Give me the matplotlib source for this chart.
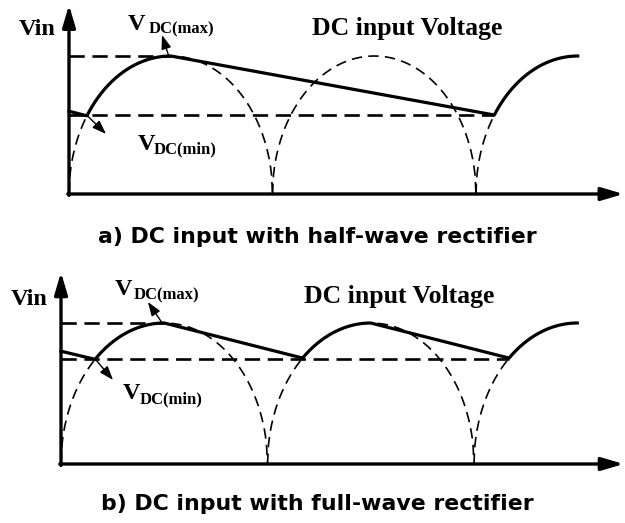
import numpy as np
import matplotlib
matplotlib.use('Agg')
import matplotlib.pyplot as plt

plt.rcParams['lines.scale_dashes'] = False

# ---- data (time in rectifier half-periods, voltage relative to peak) ----
v_peak = 1.0
t_end = 2.5                     # waveform drawn up to the third peak
hump_starts = [0, 1, 2]         # rectified source humps (dashed)

# a) half-wave rectifier
a_v0 = 0.60                     # capacitor voltage at t = 0
a_vmin = 0.57                   # V_DC(min)
a_charge = [0.088, 2.09]        # instants where charging starts
a_peaks = [0.5, 2.5]            # charging ends at the peaks

# b) full-wave rectifier
b_v0 = 0.80
b_vmin = 0.745
b_charge = [0.165, 1.17, 2.17]
b_peaks = [0.5, 1.5, 2.5]

titles = ["a) DC input with half-wave rectifier",
          "b) DC input with full-wave rectifier"]
ylab = "Vin"
curve_label = "DC input Voltage"

SERIF = 'Liberation Serif'
SANS = 'DejaVu Sans'


def hump(t0, t1, n=200):
    t = np.linspace(t0, t1, n)
    c = np.floor(t0 + 1e-9) + 0.5
    v = v_peak * np.sqrt(np.clip(1 - ((t - c) / 0.5) ** 2, 0, None))
    return t, v


def draw_panel(ax, v0, vmin, charge, peaks, xtip, ytip, txt):
    # source (rectified) waveform, dashed
    for k in hump_starts:
        t, v = hump(k, min(k + 1, t_end))
        ax.plot(t, v, color='black', lw=1.2, dashes=(7.5, 4.5),
                solid_capstyle='butt')
    # reference levels
    ax.plot([0, peaks[0]], [v_peak, v_peak], color='black', lw=1.9,
            dashes=(11, 5.5))
    ax.plot([0, charge[-1]], [vmin, vmin], color='black', lw=1.9,
            dashes=(11, 5.5))
    # DC input voltage (solid): straight decay between peak and next charge
    ts = [0.0]
    vs = [v0]
    for c, p in zip(charge, peaks):
        t, v = hump(c, p)
        ts.extend(t)
        vs.extend(v)
    ax.plot(ts, vs, color='black', lw=2.3, solid_joinstyle='round')
    # axes arrows
    ap = dict(arrowstyle='-|>,head_length=0.95,head_width=0.28',
              color='black', lw=2.4, mutation_scale=14,
              shrinkA=0, shrinkB=0)
    ax.annotate('', xy=(0, ytip), xytext=(0, -0.01), arrowprops=ap,
                annotation_clip=False)
    ax.annotate('', xy=(xtip, 0), xytext=(-0.006, 0), arrowprops=ap,
                annotation_clip=False)
    # pointer arrows
    pa = dict(arrowstyle='-|>,head_length=0.7,head_width=0.25',
              color='black', lw=1.0, mutation_scale=12,
              shrinkA=0, shrinkB=0)
    ax.annotate('', xy=txt['amax'], xytext=(peaks[0] - 0.01, v_peak),
                arrowprops=pa)
    ax.annotate('', xy=txt['amin'], xytext=(charge[0], vmin),
                arrowprops=pa)
    # texts
    ax.text(*txt['vin'], ylab, family=SERIF, weight='bold', fontsize=17.5,
            ha='center', va='baseline')
    ax.text(*txt['dc'], curve_label, family=SERIF, weight='bold',
            fontsize=18.5, ha='center', va='baseline')
    ax.text(*txt['Vmax'], 'V', family=SERIF, weight='bold', fontsize=17.5,
            ha='left', va='baseline')
    ax.text(*txt['smax'], 'DC(max)', family=SERIF, weight='bold',
            fontsize=12, ha='left', va='baseline')
    ax.text(*txt['Vmin'], 'V', family=SERIF, weight='bold', fontsize=17.5,
            ha='left', va='baseline')
    ax.text(*txt['smin'], 'DC(min)', family=SERIF, weight='bold',
            fontsize=12, ha='left', va='baseline')
    ax.set_axis_off()


W, H = 625, 523
fig = plt.figure(figsize=(W / 100, H / 100), dpi=100)

# panel a : px = 69 + 203.5 t ; py = 194 - 138 v ; covers py 0..210
ax_a = fig.add_axes([0, 1 - 210 / H, 1, 210 / H])
ax_a.set_xlim(-69 / 203.5, 556 / 203.5)
ax_a.set_ylim(-16 / 138, 194 / 138)
draw_panel(ax_a, a_v0, a_vmin, a_charge, a_peaks, 2.725, 1.37,
           dict(vin=(-0.157, 1.152), dc=(1.663, 1.152),
                Vmax=(0.290, 1.188), smax=(0.389, 1.167),
                Vmin=(0.339, 0.319), smin=(0.416, 0.297),
                amax=(0.457, 1.152), amin=(0.182, 0.435)))

# panel b : px = 61 + 206.5 t ; py = 464 - 141 v ; covers py 250..480
ax_b = fig.add_axes([0, 1 - 480 / H, 1, 230 / H])
ax_b.set_xlim(-61 / 206.5, 564 / 206.5)
ax_b.set_ylim(-16 / 141, 214 / 141)
draw_panel(ax_b, b_v0, b_vmin, b_charge, b_peaks, 2.725, 1.36,
           dict(vin=(-0.155, 1.128), dc=(1.637, 1.142),
                Vmax=(0.262, 1.199), smax=(0.350, 1.170),
                Vmin=(0.300, 0.461), smin=(0.381, 0.433),
                amax=(0.421, 1.149), amin=(0.252, 0.596)))

fig.text(317 / W, 1 - 237 / H, titles[0], family=SANS, weight='bold',
         fontsize=15.8, ha='center', va='center')
fig.text(317 / W, 1 - 504 / H, titles[1], family=SANS, weight='bold',
         fontsize=15.8, ha='center', va='center')

fig.savefig('out.png', dpi=100)
